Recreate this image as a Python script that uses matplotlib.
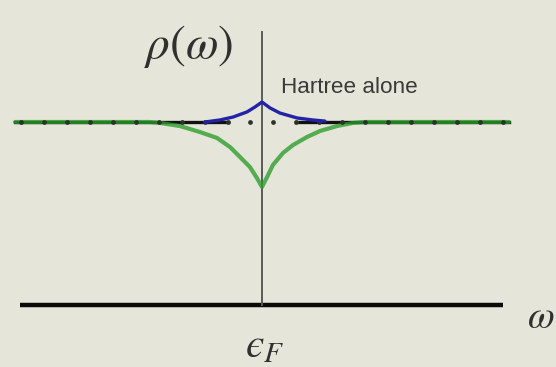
import numpy as np
import matplotlib
matplotlib.use("Agg")
import matplotlib.pyplot as plt

plt.rcParams["mathtext.fontset"] = "stix"

# Bare (free-electron) density of states: flat level with sample points
bare_x = np.arange(-10.5, 11.0, 1.0) * 0.095
bare_ends = [-1.02, 1.02]
bare_level = 1.0

# Hartree-only spectral density near the Fermi level (cusp up)
hartree_x = [-0.236, -0.174, -0.120, -0.062, -0.029, 0.0, 0.033, 0.074, 0.145, 0.211, 0.260]
hartree_y = [1.000, 1.011, 1.027, 1.055, 1.082, 1.109, 1.077, 1.049, 1.022, 1.011, 1.005]

# Full spectral density (cusp down at the Fermi level)
full_x = [-1.02, -0.463, -0.421, -0.339, -0.256, -0.186, -0.132, -0.091, -0.050, -0.021, 0.0,
          0.021, 0.045, 0.087, 0.128, 0.186, 0.240, 0.310, 0.376, 0.426, 1.02]
full_y = [1.000, 1.000, 0.995, 0.978, 0.945, 0.913, 0.863, 0.809, 0.754, 0.694, 0.645,
          0.699, 0.765, 0.831, 0.874, 0.918, 0.951, 0.978, 0.995, 1.000, 1.000]

BG = "#e5e5d9"
fig = plt.figure(figsize=(5.56, 3.67), dpi=100, facecolor=BG)
ax = fig.add_axes([0, 0, 1, 1])
ax.set_facecolor(BG)
ax.set_xlim(-1.0826, 1.2149)
ax.set_ylim(-0.3388, 1.6667)
ax.axis("off")

# axes of the sketch
ax.plot([-0.998, 0.996], [0, 0], color="#0a0a0a", lw=3.2, solid_capstyle="butt", zorder=2)
ax.plot([0, 0], [0, 1.49], color="#5a5a5a", lw=1.4, zorder=3)

# bare level: solid line (hidden under the Hartree cusp) plus dots
bare_y = np.full_like(bare_x, bare_level)
solid = np.ma.masked_where(np.abs(bare_x) < 0.1, bare_y)
kw = dict(color="#111111", lw=2.4, zorder=4)
ax.plot(bare_x, solid, **kw)
ax.plot([bare_ends[0], bare_x[0]], [bare_level, bare_level], **kw)
ax.plot([bare_x[-1], bare_ends[1]], [bare_level, bare_level], **kw)

# full result on top of the bare level
ax.plot(full_x, full_y, color="#2a9e2a", lw=3.0, alpha=0.78, zorder=5,
        solid_joinstyle="round", solid_capstyle="round")

ax.plot(bare_x, bare_y, ls="none", marker="o", ms=2.4, color="#2a332a", zorder=6)

ax.plot(hartree_x, hartree_y, color="#2323a8", lw=2.4, zorder=7,
        solid_joinstyle="round", solid_capstyle="round")

ax.text(0.08, 1.19, "Hartree alone", fontsize=16.2, color="#3a3a3a",
        family="Liberation Sans", ha="left", va="center")
ax.text(-0.305, 1.41, r"$\rho(\omega)$", fontsize=34, color="#303030",
        ha="center", va="center")
ax.text(0.01, -0.22, "$ϵ_F$", fontsize=30, color="#303030",
        ha="center", va="center")
ax.text(1.15, -0.065, r"$\omega$", fontsize=28, color="#303030",
        ha="center", va="center")

fig.savefig("out.png", dpi=100, facecolor=BG)
